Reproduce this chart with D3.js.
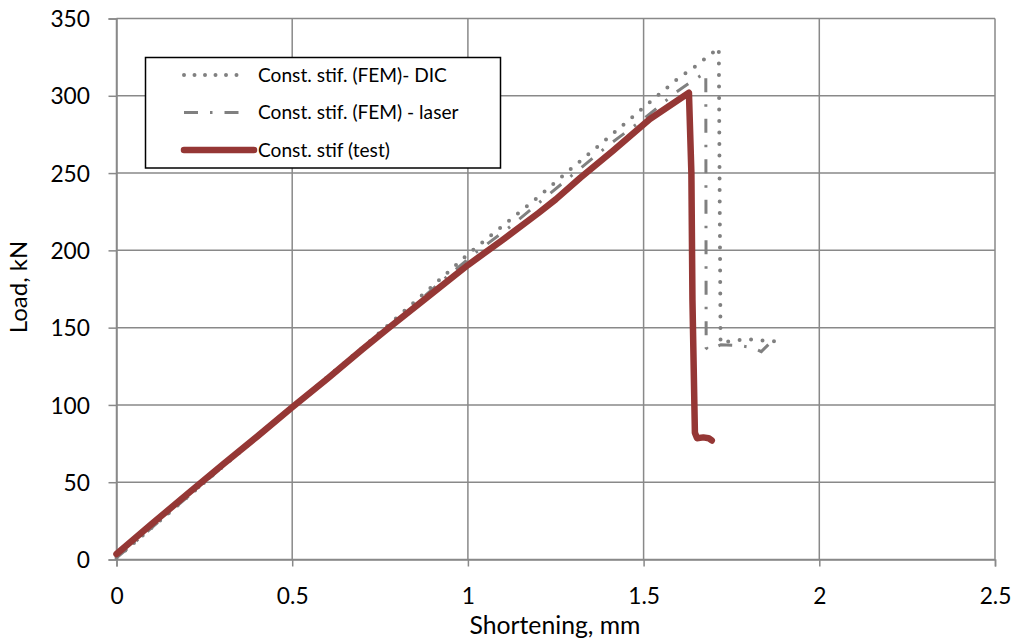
<!DOCTYPE html>
<html>
<head>
<meta charset="utf-8">
<script src="https://cdn.jsdelivr.net/npm/d3@7"></script>
<style>
  html, body { margin: 0; padding: 0; background: #fff; }
  svg { display: block; }
  text { font-family: Lato, "Open Sans", sans-serif; fill: #000; }
</style>
</head>
<body>
<svg id="chart" width="1014" height="643"></svg>
<script>
// ---------- data ----------
const xTickValues = [0, 0.5, 1, 1.5, 2, 2.5];
const xTickLabels = ["0", "0.5", "1", "1.5", "2", "2.5"];
const yTickValues = [0, 50, 100, 150, 200, 250, 300, 350];
const yTickLabels = ["0", "50", "100", "150", "200", "250", "300", "350"];

const seriesNames = ["Const. stif. (FEM)- DIC", "Const. stif. (FEM) - laser", "Const. stif (test)"];

// Const. stif. (FEM)- DIC : [shortening mm, load kN]
const dicX = [0, 0.2, 0.4, 0.6, 0.7, 0.8, 0.9, 1.0, 1.1, 1.2, 1.3, 1.4, 1.5, 1.6, 1.65, 1.686, 1.714, 1.719, 1.75, 1.8, 1.85, 1.892];
const dicY = [1, 40, 79, 118, 137, 157, 177, 197.5, 216, 234.5, 254, 273, 292.5, 311.5, 319.5, 326, 331, 140, 141.5, 142.5, 141.5, 141];

// Const. stif. (FEM) - laser
const laserX = [0, 0.2, 0.4, 0.6, 0.8, 0.93, 1.025, 1.124, 1.214, 1.309, 1.4, 1.5, 1.594, 1.641, 1.677, 1.678, 1.686, 1.72, 1.77, 1.81, 1.835, 1.855];
const laserY = [1, 40, 79, 117, 155, 181, 199, 216, 233, 251, 268, 285, 302.5, 310, 315, 137, 135.5, 139, 138.5, 137, 134.5, 139];

// Const. stif (test)
const testX = [0, 0.1, 0.2, 0.3, 0.4, 0.5, 0.6, 0.7, 0.77, 0.9, 1.0, 1.1, 1.2, 1.25, 1.32, 1.413, 1.518, 1.629, 1.636, 1.639, 1.646, 1.652, 1.67, 1.685, 1.694];
const testY = [3.5, 23, 42, 61, 79.5, 98.5, 117, 136, 149, 172.5, 190.5, 207, 224, 233, 247, 264.5, 285, 302, 250, 168, 82, 78.5, 79, 78.5, 77];

// ---------- layout ----------
const svg = d3.select("#chart");
const M = { left: 116.5, right: 995, top: 18.5, bottom: 559.5 };
const x = d3.scaleLinear().domain([0, 2.5]).range([M.left, M.right]);
const y = d3.scaleLinear().domain([0, 350]).range([M.bottom, M.top]);

const gridColor = "#898989";
const greyLine = "#808080";
const red = "#953735";

// fit a font size so a sample string reaches a target width
function fitSize(sample, target, base) {
  const t = svg.append("text").attr("font-size", base).text(sample);
  const w = t.node().getComputedTextLength();
  t.remove();
  return w > 0 ? base * target / w : base;
}
const titleSize = fitSize("Shortening, mm", 171, 20);
const tickSize = titleSize * 0.92;
const legendSize = fitSize(seriesNames[0], 189, 17);

// grid lines
const gGrid = svg.append("g");
gGrid.selectAll("line.h").data(yTickValues).join("line")
  .attr("x1", M.left).attr("x2", M.right)
  .attr("y1", d => y(d)).attr("y2", d => y(d))
  .attr("stroke", gridColor).attr("stroke-width", 1.5);
gGrid.selectAll("line.v").data(xTickValues).join("line")
  .attr("y1", M.top).attr("y2", M.bottom)
  .attr("x1", d => x(d)).attr("x2", d => x(d))
  .attr("stroke", gridColor).attr("stroke-width", 1.5);

// axes
const xAxis = d3.axisBottom(x).tickValues(xTickValues)
  .tickFormat((d, i) => xTickLabels[i]).tickSize(7);
const gx = svg.append("g").attr("transform", `translate(0,${M.bottom})`).call(xAxis);
gx.select(".domain").attr("stroke", gridColor).attr("stroke-width", 1.5);
gx.selectAll(".tick line").attr("stroke", gridColor).attr("stroke-width", 1.5);
gx.selectAll(".tick text").attr("font-size", tickSize).attr("font-family", "Lato, sans-serif")
  .attr("fill", "#000").attr("y", 36.5).attr("dy", "0.36em");

const yAxis = d3.axisLeft(y).tickValues(yTickValues)
  .tickFormat((d, i) => yTickLabels[i]).tickSize(8);
const gy = svg.append("g").attr("transform", `translate(${M.left},0)`).call(yAxis);
gy.select(".domain").attr("stroke", gridColor).attr("stroke-width", 1.5);
gy.selectAll(".tick line").attr("stroke", gridColor).attr("stroke-width", 1.5);
gy.selectAll(".tick text").attr("font-size", tickSize).attr("font-family", "Lato, sans-serif")
  .attr("fill", "#000").attr("x", -26.5).attr("dy", "0.36em");

// axis titles
svg.append("text").attr("x", 555).attr("y", 634)
  .attr("text-anchor", "middle").attr("font-size", titleSize).text("Shortening, mm");
svg.append("text").attr("transform", `translate(27,287) rotate(-90)`)
  .attr("text-anchor", "middle").attr("font-size", titleSize * 0.97).text("Load, kN");

// series
const line = d3.line().x(d => x(d[0])).y(d => y(d[1]));
const dic = dicX.map((v, i) => [v, dicY[i]]);
const laser = laserX.map((v, i) => [v, laserY[i]]);
const test = testX.map((v, i) => [v, testY[i]]);

svg.append("path").datum(dic).attr("d", line)
  .attr("fill", "none").attr("stroke", greyLine).attr("stroke-width", 4)
  .attr("stroke-linecap", "round").attr("stroke-dasharray", "0,11.5");
svg.append("path").datum(laser).attr("d", line)
  .attr("fill", "none").attr("stroke", greyLine).attr("stroke-width", 3)
  .attr("stroke-dasharray", "14,12,2.5,12");
svg.append("path").datum(test).attr("d", line)
  .attr("fill", "none").attr("stroke", red).attr("stroke-width", 6.5)
  .attr("stroke-linejoin", "round").attr("stroke-linecap", "round");

// legend
const lg = svg.append("g");
lg.append("rect").attr("x", 145.5).attr("y", 57.5).attr("width", 355).attr("height", 110.5)
  .attr("fill", "#fff").attr("stroke", "#000").attr("stroke-width", 1.5);
const rowsY = [75, 112.5, 150];
const styles = [
  { w: 4, dash: "0,10.5", cap: "round", c: greyLine, x2: 246 },
  { w: 3, dash: "14,12,2.5,12", cap: "butt", c: greyLine, x2: 240 },
  { w: 6.5, dash: null, cap: "round", c: red, x2: 254 }
];
seriesNames.forEach((name, i) => {
  const s = styles[i];
  const l = lg.append("line").attr("x1", 184).attr("x2", s.x2)
    .attr("y1", rowsY[i]).attr("y2", rowsY[i])
    .attr("stroke", s.c).attr("stroke-width", s.w).attr("stroke-linecap", s.cap);
  if (s.dash) l.attr("stroke-dasharray", s.dash);
  lg.append("text").attr("x", 258).attr("y", rowsY[i]).attr("dy", "0.36em")
    .attr("font-size", legendSize).text(name);
});
</script>
</body>
</html>
